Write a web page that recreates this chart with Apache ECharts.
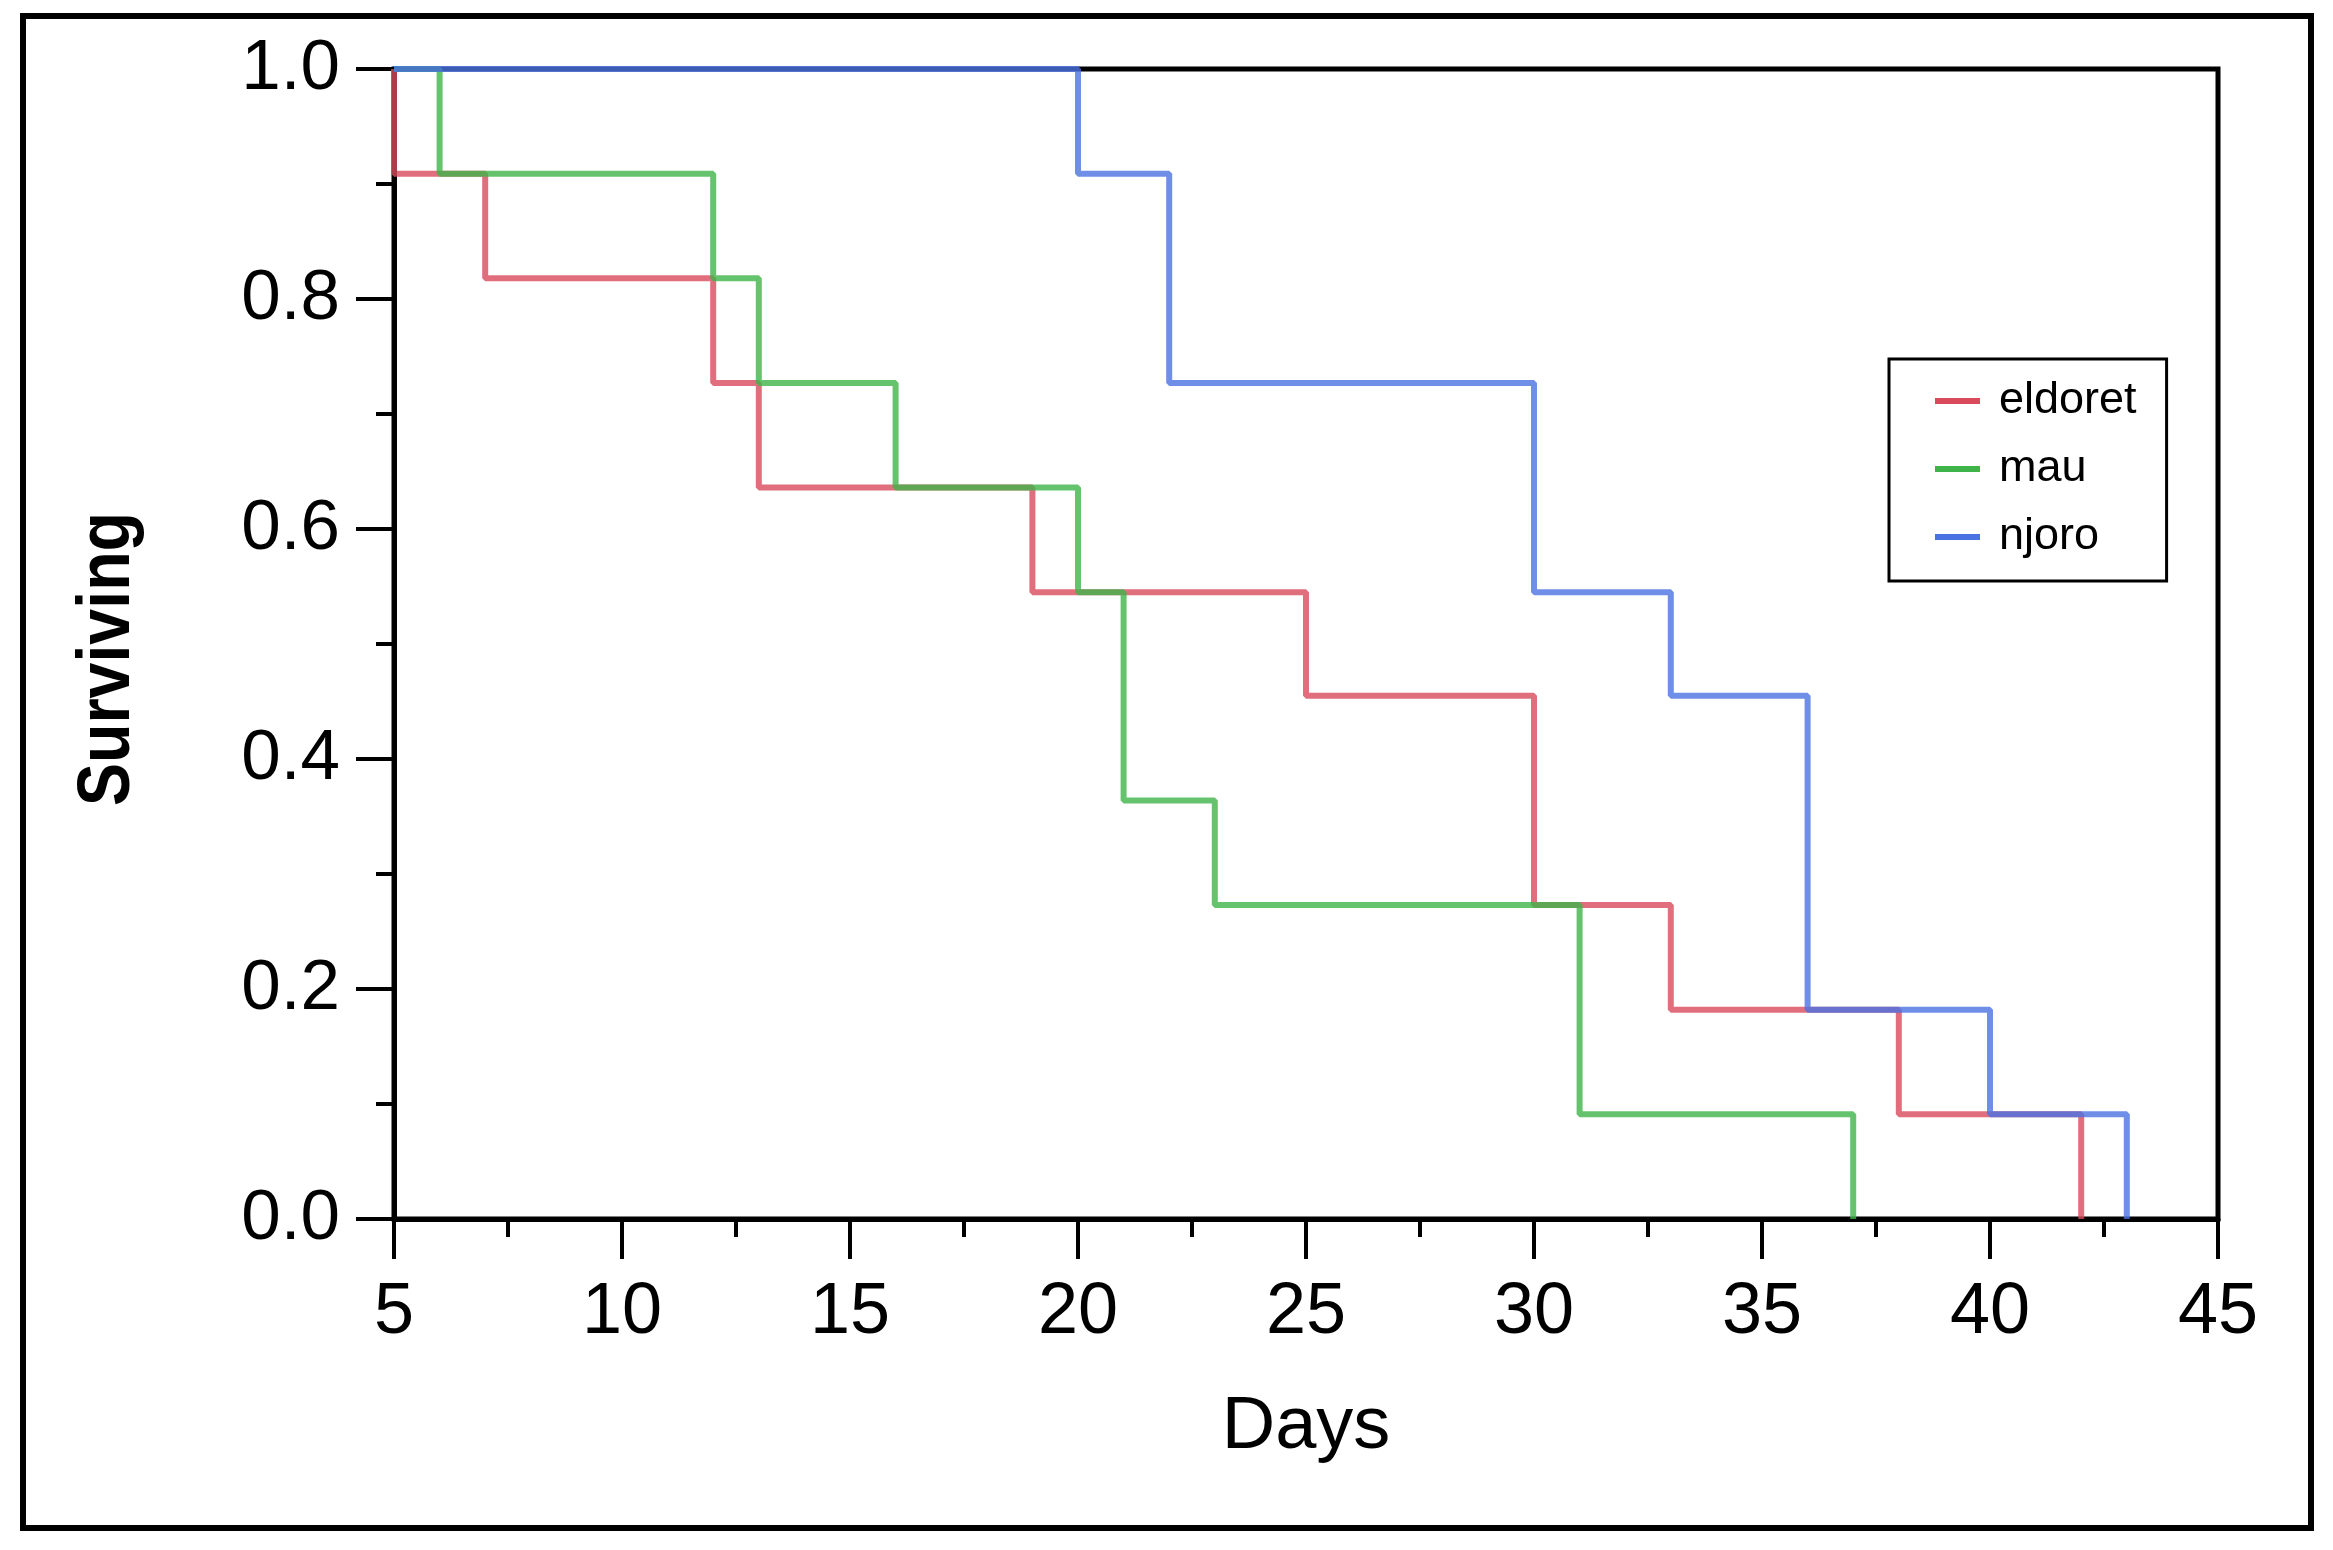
<!DOCTYPE html>
<html>
<head>
<meta charset="utf-8">
<script src="https://cdn.jsdelivr.net/npm/echarts@6/dist/echarts.min.js"></script>
<style>
html,body{margin:0;padding:0;background:#fff;}
#chart{width:2333px;height:1550px;}
</style>
</head>
<body>
<div id="chart"></div>
<script>
// Kaplan-Meier survival steps
const seriesNames = ['eldoret', 'mau', 'njoro'];
const eldoretDays = [5, 5, 7, 12, 13, 19, 25, 30, 33, 38, 42];
const eldoretSurv = [1.0, 0.909, 0.818, 0.727, 0.636, 0.545, 0.455, 0.273, 0.182, 0.091, 0.0];
const mauDays = [5, 6, 12, 13, 16, 20, 21, 23, 31, 37];
const mauSurv = [1.0, 0.909, 0.818, 0.727, 0.636, 0.545, 0.364, 0.273, 0.091, 0.0];
const njoroDays = [5, 20, 22, 30, 33, 36, 40, 43];
const njoroSurv = [1.0, 0.909, 0.727, 0.545, 0.455, 0.182, 0.091, 0.0];
const colors = ['#d94a5c', '#3fb44a', '#4a72e2'];
const xAxisTitle = 'Days';
const yAxisTitle = 'Surviving';

const pair = (xs, ys) => xs.map((x, i) => [x, ys[i]]);
const chart = echarts.init(document.getElementById('chart'), null, {renderer: 'canvas'});

const mkSeries = (name, data, color) => ({
  name: name, type: 'line', step: 'end', data: data, showSymbol: false, symbol: 'none',
  lineStyle: {color: color, width: 6, opacity: 0.8},
  itemStyle: {color: color},
  animation: false
});

chart.setOption({
  animation: false,
  backgroundColor: '#fff',
  graphic: [{
    type: 'rect', z: 0,
    shape: {x: 23, y: 16, width: 2288, height: 1512},
    style: {fill: 'none', stroke: '#000', lineWidth: 6}
  }, {
    type: 'text', z: 10,
    x: 108, y: 659, rotation: Math.PI / 2, scaleX: 0.86,
    style: {text: yAxisTitle, fill: '#000', font: 'bold 75px "Liberation Sans", Arial', align: 'center', verticalAlign: 'middle'}
  }],
  grid: {left: 394, top: 69, right: 115, bottom: 331, show: true, borderColor: '#000', borderWidth: 5, backgroundColor: 'transparent'},
  legend: {
    orient: 'vertical', left: 1889, top: 359,
    padding: [14, 30, 16, 46],
    borderColor: '#000', borderWidth: 3,
    itemWidth: 45, itemHeight: 6, itemGap: 12,
    icon: 'rect',
    textStyle: {fontFamily: 'Liberation Sans, Arial', fontSize: 45, color: '#000', padding: [4, 0, 0, 14], lineHeight: 52},
    data: seriesNames
  },
  xAxis: {
    type: 'value', min: 5, max: 45, interval: 5,
    name: xAxisTitle, nameLocation: 'middle', nameGap: 172,
    nameTextStyle: {fontFamily: 'Liberation Sans, Arial', fontSize: 74, color: '#000'},
    axisLine: {show: true, lineStyle: {color: '#000', width: 5}},
    axisTick: {show: true, length: 40, lineStyle: {color: '#000', width: 4}},
    minorTick: {show: true, splitNumber: 2, length: 18, lineStyle: {color: '#000', width: 4}},
    axisLabel: {fontFamily: 'Liberation Sans, Arial', fontSize: 72, color: '#000', margin: 58},
    splitLine: {show: false}
  },
  yAxis: {
    type: 'value', min: 0, max: 1, interval: 0.2,
    axisLine: {show: true, lineStyle: {color: '#000', width: 5}},
    axisTick: {show: true, length: 38, lineStyle: {color: '#000', width: 4}},
    minorTick: {show: true, splitNumber: 2, length: 18, lineStyle: {color: '#000', width: 4}},
    axisLabel: {fontFamily: 'Liberation Sans, Arial', fontSize: 71, color: '#000', margin: 54,
      formatter: v => v.toFixed(1)},
    splitLine: {show: false}
  },
  series: [
    mkSeries(seriesNames[0], pair(eldoretDays, eldoretSurv), colors[0]),
    mkSeries(seriesNames[1], pair(mauDays, mauSurv), colors[1]),
    mkSeries(seriesNames[2], pair(njoroDays, njoroSurv), colors[2])
  ]
});
</script>
</body>
</html>
